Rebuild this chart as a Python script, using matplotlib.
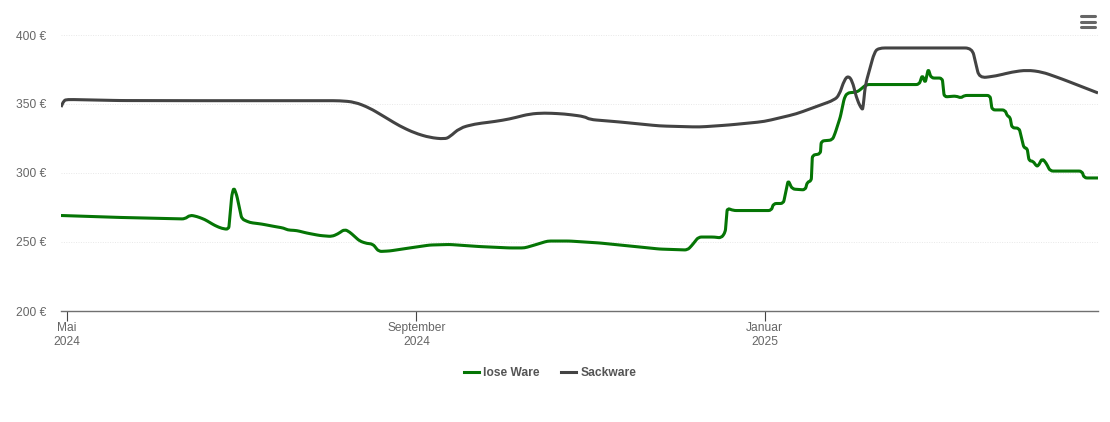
import matplotlib
matplotlib.use('Agg')
import matplotlib.pyplot as plt
import numpy as np
from matplotlib.lines import Line2D
from matplotlib.patches import PathPatch
from matplotlib.path import Path

plt.rcParams['font.family'] = ['Liberation Sans', 'DejaVu Sans']

# days since 1 May 2024, price in euro
lose_days = [-2.1, 18.6, 41.4, 43.2, 45.6, 48.4, 51.9, 54.4, 56.8, 57.9, 58.6, 59.6, 61.4, 64.2, 68.4, 73,
             76.1, 77.5, 80.7, 84.2, 88.8, 93, 95.1, 97.5, 99.3, 102.8, 105.3, 107.4, 109.5, 113.3, 120.4,
             127.4, 134.4, 144.9, 155.4, 160.7, 164.2, 168.8, 176.5, 187, 201, 208.1, 217.9, 219.3, 221.8,
             227.4, 229.8, 231.2, 231.9, 234, 247.4, 248.1, 251.6, 253.3, 254.7, 259.3, 260, 261.4, 261.8,
             264.6, 264.9, 268.8, 269.8, 271.6, 273, 274, 277.5, 278.9, 280.7, 299.3, 300.4, 301.4, 302.5,
             303.5, 307.4, 308.1, 312.3, 314, 315.1, 324.2, 324.9, 329.5, 330.2, 331.2, 331.9, 334.4, 336.1,
             337.2, 337.9, 339.3, 340.4, 341.1, 342.5, 343.9, 345.3, 356.5, 357.2, 362.1]
lose_price = [269.2, 267.8, 266.7, 269.5, 268.5, 266.3, 262, 259.8, 259.1, 284, 289.5, 284, 266.7, 264.1, 263, 261.2,
              260.1, 258.7, 258.3, 256.5, 254.7, 254, 255.8, 259.2, 257.2, 250.7, 248.9, 248.6, 243.1, 243.5, 245.7,
              247.8, 248.2, 246.7, 245.7, 245.7, 247.8, 250.7, 250.7, 249.3, 246.4, 244.9, 244.2, 247.1, 253.6,
              253.6, 252.9, 257.2, 274.6, 272.8, 272.8, 277.9, 277.9, 294.7, 288.4, 287.7, 293.5, 294.2, 313,
              313.8, 323.2, 323.9, 329, 340.6, 354.3, 358, 358.7, 360.9, 364.1, 364.1, 371, 365.2, 375.5,
              368.8, 368.8, 355.1, 355.8, 354.3, 356.2, 356.2, 345.7, 345.7, 341.3, 340.6, 332.6, 332.6, 318.1,
              318.1, 308.7, 308.7, 305.1, 305.1, 310.6, 307.2, 301.4, 301.4, 296.4, 296.4]

sack_days = [-2.1, -1.1, 0, 18.6, 46.7, 95.8, 101.1, 106.3, 111.6, 116.8, 122.1, 127.4, 132.6, 134.4, 137.9,
             143.2, 150.2, 155.4, 162.5, 167.7, 174.7, 181.8, 183.5, 194, 208.1, 222.1, 232.6, 244.9, 250.2,
             256.1, 261.8, 269.5, 271.2, 273, 274.4, 275.8, 277.5, 279.3, 279.6, 280.4, 283.5, 284.9, 317.9,
             319.3, 320.4, 326.3, 331.9, 337.2, 342.5, 349.5, 362.1]
sack_price = [347.8, 352.5, 353.3, 352.5, 352.4, 352.4, 351.4, 347.1, 340.6, 334.1, 329, 325.7, 324.6, 326.1, 332.6,
              335.5, 337.3, 339.1, 342.8, 343.5, 342.8, 340.9, 338.8, 337, 334.1, 333.3, 334.8, 337.3, 339.9,
              342.8, 347.1, 352.9, 356.5, 367.4, 370.5, 366.7, 352.9, 345.5, 347.8, 363.8, 387, 390.6, 390.6,
              378.3, 368.8, 370.3, 373.2, 374.6, 373.2, 368.1, 358]

month_ticks = [0, 122.7, 245]
month_labels = ['Mai\n2024', 'September\n2024', 'Januar\n2025']
y_ticks = [200, 250, 300, 350, 400]

W, H = 1110, 422


def rounded_path(ax, days, price, r):
    # round every corner, r in pixels, the plain line looks too jagged
    data = np.column_stack([days, price])
    pix = ax.transData.transform(data)
    verts = [data[0]]
    codes = [Path.MOVETO]
    for i in range(1, len(data) - 1):
        prev_len = np.hypot(*(pix[i] - pix[i - 1]))
        next_len = np.hypot(*(pix[i + 1] - pix[i]))
        a = min(r, prev_len / 2) / prev_len
        b = min(r, next_len / 2) / next_len
        verts += [data[i] + (data[i - 1] - data[i]) * a, data[i], data[i] + (data[i + 1] - data[i]) * b]
        codes += [Path.LINETO, Path.CURVE3, Path.CURVE3]
    verts.append(data[-1])
    codes.append(Path.LINETO)
    return Path(verts, codes)


fig = plt.figure(figsize=(W / 100, H / 100), dpi=100)
ax = fig.add_axes([61 / W, (H - 311) / H, 1037 / W, 276 / H])

ax.set_xlim(-2.1, 362.1)
ax.set_ylim(200, 400)
ax.set_yticks(y_ticks)
ax.set_yticklabels([f'{v} €' for v in y_ticks])
ax.set_xticks(month_ticks)
ax.set_xticklabels(month_labels, linespacing=1.22)

ax.add_patch(PathPatch(rounded_path(ax, lose_days, lose_price, 3), fill=False, edgecolor='#057505', lw=2.2,
                       joinstyle='round', capstyle='butt', zorder=3))
ax.add_patch(PathPatch(rounded_path(ax, sack_days, sack_price, 7), fill=False, edgecolor='#434343', lw=2.2,
                       joinstyle='round', capstyle='butt', zorder=3))

ax.grid(axis='y', color='#e8e8e8', lw=0.7, ls=(0, (1, 1.5)))
ax.set_axisbelow(True)
for s in ['top', 'right', 'left']:
    ax.spines[s].set_visible(False)
ax.spines['bottom'].set_color('#707070')
ax.spines['bottom'].set_linewidth(1.0)

ax.tick_params(axis='y', length=0, pad=10.8, labelsize=8.64, labelcolor='#666666')
ax.tick_params(axis='x', length=7, width=0.8, color='#444444', pad=0.8, labelsize=8.64, labelcolor='#666666')

handles = [Line2D([], [], color='#057505', lw=2.2, label='lose Ware'),
           Line2D([], [], color='#434343', lw=2.2, label='Sackware')]
fig.legend(handles=handles, loc='center', bbox_to_anchor=(550 / W, 1 - 373 / H), ncol=2, frameon=False,
           prop={'size': 8.64, 'weight': 'bold'}, labelcolor='#555555',
           handlelength=1.3, handletextpad=0.35, columnspacing=1.75)

# menu icon
for y in [16, 21.5, 27]:
    fig.add_artist(Line2D([1081 / W, 1095 / W], [1 - y / H, 1 - y / H], color='#666666', lw=2.2,
                          solid_capstyle='round'))

fig.savefig('out.png', dpi=100)
